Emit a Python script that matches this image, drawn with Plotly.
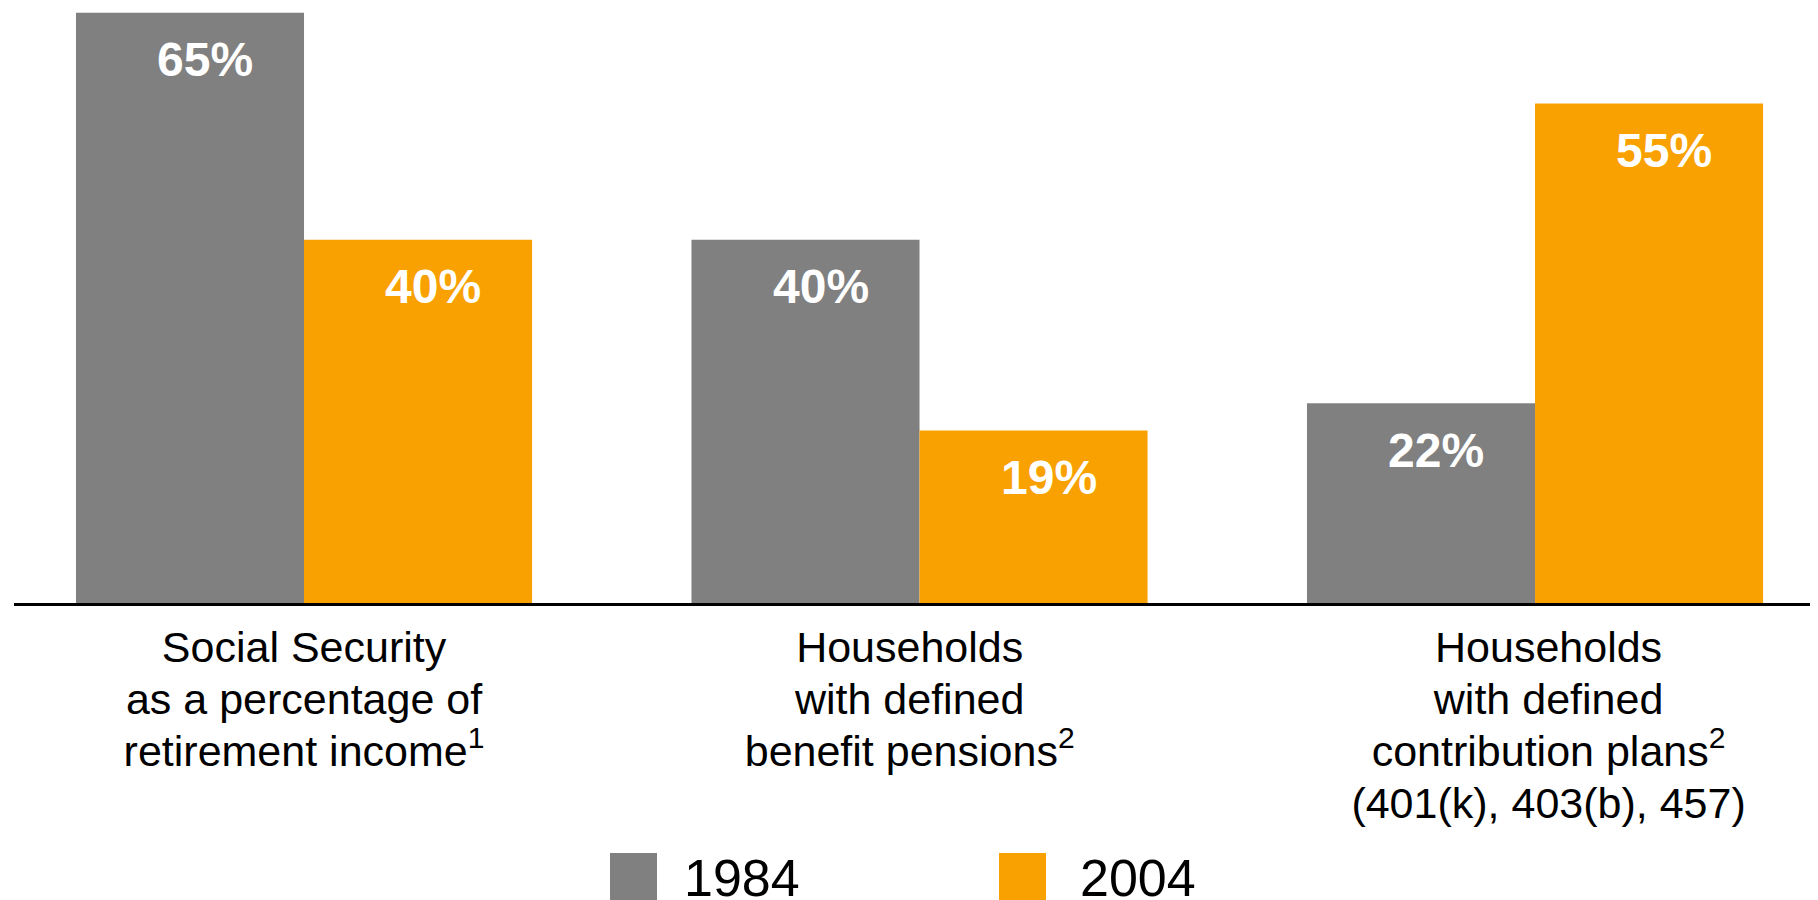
import plotly.graph_objects as go

categories = [
    "Social Security<br>as a percentage of<br>retirement income<sup>1</sup>",
    "Households<br>with defined<br>benefit pensions<sup>2</sup>",
    "Households<br>with defined<br>contribution plans<sup>2</sup><br>(401(k), 403(b), 457)",
]
years = ["1984", "2004"]
values_1984 = [65, 40, 22]
values_2004 = [40, 19, 55]
colors = {"1984": "#808080", "2004": "#F9A100"}

BARGAP = 0.259
FONT = "Liberation Sans, Arial, sans-serif"
LABEL_NUDGE = [0.0, -0.016, 0.022]  # small horizontal nudges of category labels

xpos = list(range(len(categories)))
fig = go.Figure()
series = {"1984": values_1984, "2004": values_2004}
for yr in years:
    fig.add_trace(go.Bar(
        x=xpos, y=series[yr], name=yr,
        marker=dict(color=colors[yr], line=dict(width=0)),
        showlegend=False,
    ))

# value labels inside bars
half = (1 - BARGAP) / 4
for i, yr in enumerate(years):
    off = -half if i == 0 else half
    for x, v in zip(xpos, series[yr]):
        fig.add_annotation(
            x=x + off, y=v, xref="x", yref="y",
            text=f"<b>{v}%</b>", showarrow=False,
            xanchor="center", yanchor="middle",
            xshift=15, yshift=-47,
            font=dict(family=FONT, size=48, color="white"),
        )

# layout geometry (figure is offset by the page's 8px body margin)
W, H = 1818, 900
OFF = 8
L, T = 6, 0
PLOT_H = 595
B = H - T - PLOT_H
pw, ph = W - L, PLOT_H

def px(page_x):
    return (page_x - OFF - L) / pw

def py(page_y):
    return (PLOT_H - (page_y - OFF - T)) / ph

# manual legend (large squares)
legend_items = [("1984", 610, 682), ("2004", 999, 1078)]
for yr, sq_x, tx in legend_items:
    fig.add_shape(type="rect", xref="paper", yref="paper",
                  x0=px(sq_x), x1=px(sq_x + 47), y0=py(853), y1=py(910),
                  fillcolor=colors[yr], line=dict(width=0), layer="above")
    fig.add_annotation(x=px(tx), y=py(878), xref="paper", yref="paper",
                       text=yr, showarrow=False, xanchor="left", yanchor="middle",
                       font=dict(family=FONT, size=52, color="black"))

ticktext = ['<span style="font-size:43px">' + c.replace("<br>", '</span><br><span style="font-size:43px">') + "</span>"
            for c in categories]
tickvals = [x + n for x, n in zip(xpos, LABEL_NUDGE)]

fig.update_layout(
    width=W, height=H,
    margin=dict(l=L, r=0, t=T, b=B, pad=0),
    paper_bgcolor="white", plot_bgcolor="white",
    barmode="group", bargap=BARGAP, bargroupgap=0,
    font=dict(family=FONT, color="black"),
    showlegend=False,
)
fig.update_xaxes(
    tickmode="array", tickvals=tickvals, ticktext=ticktext,
    range=[-0.4712, -0.4712 + pw / 615.5],
    showline=True, linecolor="black", linewidth=3,
    ticks="", showgrid=False, zeroline=False,
    tickfont=dict(family=FONT, size=40, color="black"),
    ticklabelstandoff=8,
    fixedrange=True,
)
fig.update_yaxes(
    range=[0, PLOT_H / 9.08], visible=False, showgrid=False, zeroline=False,
    fixedrange=True,
)
fig.write_html("out.html")
